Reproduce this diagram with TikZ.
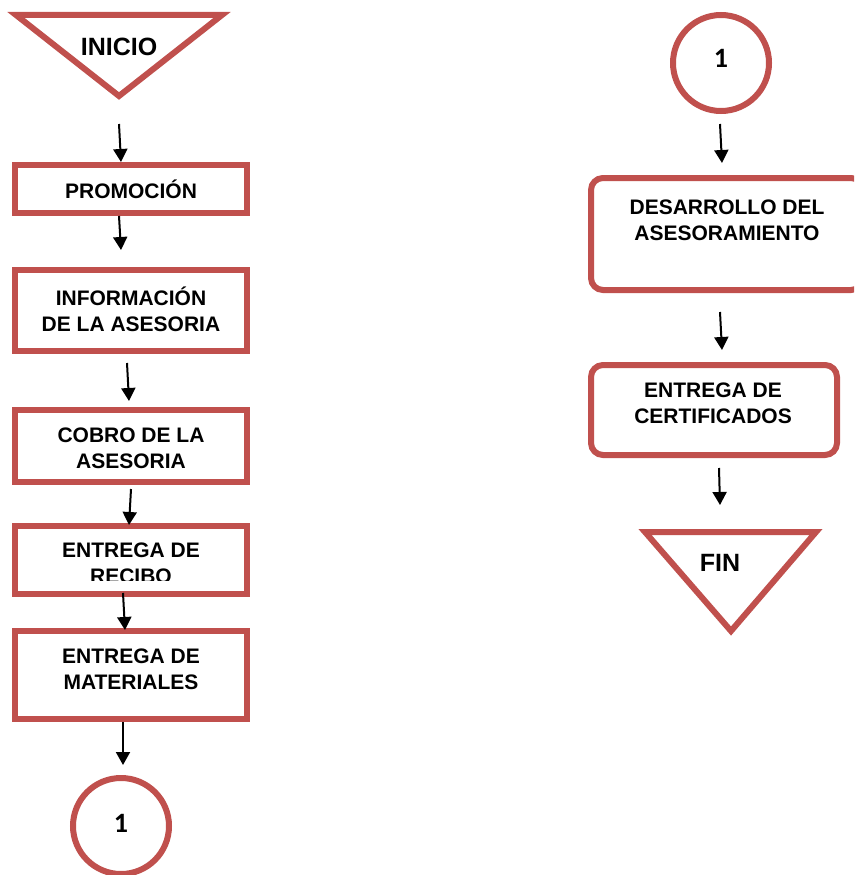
\documentclass[tikz,border=0pt]{standalone}
\usepackage{fontspec}
\setmainfont{Liberation Sans}
\newfontfamily\digitfont{Carlito}
\usetikzlibrary{arrows.meta}
\definecolor{flowred}{RGB}{192,80,77}
\tikzset{
  outline/.style={draw=flowred, line width=6pt, fill=white},
  stepbox/.style={outline, minimum width=232pt, inner sep=0pt},
  roundbox/.style={outline, inner sep=0pt, rounded corners=12pt},
  boxtext/.style={font=\bfseries\fontsize{21}{26}\selectfont, align=center, inner sep=0pt},
  bigtext/.style={font=\bfseries\fontsize{25}{30}\selectfont, inner sep=0pt},
  numtext/.style={font=\digitfont\bfseries\fontsize{28}{32}\selectfont, inner sep=0pt},
  flow/.style={-{Triangle[width=14pt,length=13pt]}, line width=2pt, black},
}
\begin{document}
\begin{tikzpicture}[x=1pt, y=-1pt]
\useasboundingbox (0,0) rectangle (854,875);
\clip (0,0) rectangle (854,875);

% ---------- left column ----------
% start terminal
\coordinate (iniL) at (16,15);
\coordinate (iniR) at (222,15);
\coordinate (iniB) at (119,96);
\draw[outline, line join=miter] (iniL) -- (iniR) -- (iniB) -- cycle;
\node[bigtext] (inicio) at (119,47) {INICIO};

% process boxes
\node[stepbox, minimum height=48pt] (promo) at (131,189) {};
\node[boxtext] (promoT) at (131,189) {PROMOCIÓN};

\node[stepbox, minimum height=81pt] (info) at (131,310.5) {};
\node[boxtext] (infoT) at (131,309) {INFORMACIÓN\\DE LA ASESORIA};

\node[stepbox, minimum height=72pt] (cobro) at (131,446) {};
\node[boxtext] (cobroT) at (131,448) {COBRO DE LA\\ASESORIA};

\node[stepbox, minimum height=68pt] (recibo) at (131,560) {};
\begin{scope}
  \clip (18,529) rectangle (244,580);
  \node[boxtext] (reciboT) at (131,563) {ENTREGA DE\\RECIBO};
\end{scope}

\node[stepbox, minimum height=88pt] (mater) at (131,675) {};
\node[boxtext] (materT) at (131,669.5) {ENTREGA DE\\MATERIALES};

% off-page connector
\node[outline, circle, minimum size=96pt, inner sep=0pt] (conA) at (121,826) {};
\node[numtext] (conAT) at (121,823) {1};

% connectors, left column
\coordinate (a1s) at (119,124);  \coordinate (a1e) at (121,162);
\coordinate (a2s) at (119,216);  \coordinate (a2e) at (121,250);
\coordinate (a3s) at (127,363);  \coordinate (a3e) at (129,401);
\coordinate (a4s) at (131,489);  \coordinate (a4e) at (129,525);
\coordinate (a5s) at (123,593);  \coordinate (a5e) at (125,630);
\coordinate (a6s) at (123,722);  \coordinate (a6e) at (123,765);
\foreach \k in {1,...,6} { \draw[flow] (a\k s) -- (a\k e); }

% ---------- right column ----------
\node[outline, circle, minimum size=96pt, inner sep=0pt] (conB) at (721,63) {};
\node[numtext] (conBT) at (721,58) {1};

\node[roundbox, minimum width=272pt, minimum height=112pt] (desa) at (727,234) {};
\node[boxtext] (desaT) at (727,220) {DESARROLLO DEL\\ASESORAMIENTO};

\node[roundbox, minimum width=246pt, minimum height=90pt] (cert) at (714,410) {};
\node[boxtext] (certT) at (713,403.5) {ENTREGA DE\\CERTIFICADOS};

% end terminal
\coordinate (finL) at (645,532);
\coordinate (finR) at (816,532);
\coordinate (finB) at (731,631);
\draw[outline, line join=miter] (finL) -- (finR) -- (finB) -- cycle;
\node[bigtext] (fin) at (720,563) {FIN};

% connectors, right column
\coordinate (b1s) at (720,124);  \coordinate (b1e) at (722,163);
\coordinate (b2s) at (720,312);  \coordinate (b2e) at (722,350);
\coordinate (b3s) at (719,468);  \coordinate (b3e) at (720,505);
\foreach \k in {1,2,3} { \draw[flow] (b\k s) -- (b\k e); }
\end{tikzpicture}
\end{document}
